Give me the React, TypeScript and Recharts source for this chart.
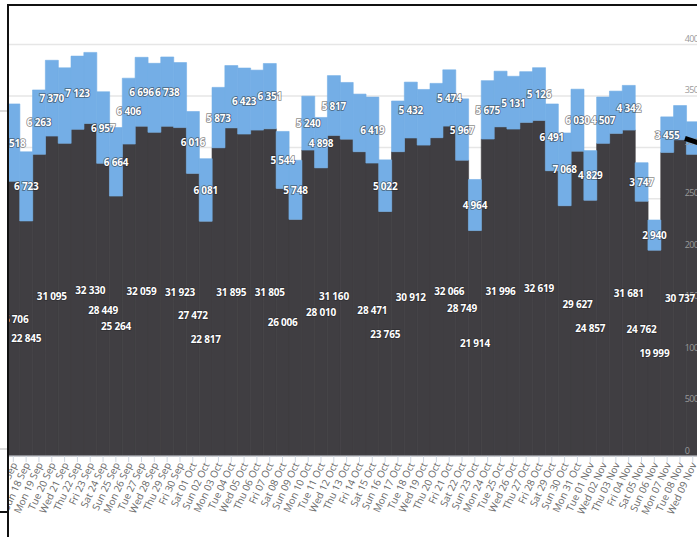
import { Bar, BarChart, CartesianGrid, LabelList, XAxis, YAxis } from 'recharts';

// daily visits, Sat 17 Sep – Wed 09 Nov
const days = [
  'Sat 17 Sep', 'Sun 18 Sep', 'Mon 19 Sep', 'Tue 20 Sep', 'Wed 21 Sep', 'Thu 22 Sep', 'Fri 23 Sep',
  'Sat 24 Sep', 'Sun 25 Sep', 'Mon 26 Sep', 'Tue 27 Sep', 'Wed 28 Sep', 'Thu 29 Sep', 'Fri 30 Sep',
  'Sat 01 Oct', 'Sun 02 Oct', 'Mon 03 Oct', 'Tue 04 Oct', 'Wed 05 Oct', 'Thu 06 Oct', 'Fri 07 Oct',
  'Sat 08 Oct', 'Sun 09 Oct', 'Mon 10 Oct', 'Tue 11 Oct', 'Wed 12 Oct', 'Thu 13 Oct', 'Fri 14 Oct',
  'Sat 15 Oct', 'Sun 16 Oct', 'Mon 17 Oct', 'Tue 18 Oct', 'Wed 19 Oct', 'Thu 20 Oct', 'Fri 21 Oct',
  'Sat 22 Oct', 'Sun 23 Oct', 'Mon 24 Oct', 'Tue 25 Oct', 'Wed 26 Oct', 'Thu 27 Oct', 'Fri 28 Oct',
  'Sat 29 Oct', 'Sun 30 Oct', 'Mon 31 Oct', 'Tue 01 Nov', 'Wed 02 Nov', 'Thu 03 Nov', 'Fri 04 Nov',
  'Sat 05 Nov', 'Sun 06 Nov', 'Mon 07 Nov', 'Tue 08 Nov', 'Wed 09 Nov',
];

const baseValues = [
  26706, 22845, 29320, 31095, 30390, 31750, 32330,
  28449, 25264, 30320, 32059, 31460, 32050, 31923,
  27472, 22817, 29960, 31895, 31290, 31680, 31805,
  26006, 23000, 29740, 28010, 31160, 30800, 29580,
  28471, 23765, 29580, 30912, 30220, 30940, 32066,
  28749, 21914, 30810, 31996, 31780, 32430, 32619,
  27730, 24330, 29627, 24857, 30390, 31360, 31681,
  24762, 19999, 29510, 30737, 29320,
];

const extraValues = [
  7518, 6723, 6263, 7370, 7340, 7123, 6900,
  6957, 6664, 6406, 6696, 6710, 6738, 6320,
  6016, 6081, 5873, 6060, 6423, 5830, 6351,
  5544, 5748, 5240, 4898, 5817, 5510, 5600,
  6419, 5022, 4930, 5432, 5410, 5280, 5474,
  5967, 4964, 5675, 5410, 5131, 4930, 5126,
  6491, 7068, 6030, 4829, 4507, 4110, 4342,
  3747, 2940, 3455, 3330, 3170,
];

// which bars show a data label (the others are hidden to avoid overlap)
const baseLabelIdx = [0, 1, 3, 6, 7, 8, 10, 13, 14, 15, 17, 20, 21, 24, 25, 28, 29, 31, 34, 35, 36, 38, 41, 44, 45, 48, 49, 50, 52];
const extraLabelIdx = [0, 1, 2, 3, 5, 7, 8, 9, 10, 12, 14, 15, 16, 18, 20, 21, 22, 23, 24, 25, 28, 29, 31, 34, 35, 36, 37, 39, 41, 42, 43, 44, 45, 46, 48, 49, 50, 51];

const yTicks = [0, 5000, 10000, 15000, 20000, 25000, 30000, 35000, 40000];

const data = days.map((day, i) => ({ day, base: baseValues[i], extra: extraValues[i] }));

const DARK = '#403e42';
const BLUE = '#74aee6';
const FONT = "'Open Sans', 'Noto Sans', sans-serif";
const fmt = (v: number) => String(v).replace(/\B(?=(\d{3})+(?!\d))/g, ' ');

// the visible window starts inside the report frame
const CLIP_X = 8.7;
const CLIP_Y = 6;

const valueLabel = (shown: number[]) => (props: any) => {
  const { x, y, width, height, value, index } = props;
  if (!shown.includes(index)) return null;
  return (
    <text
      x={Number(x) + Number(width) / 2}
      y={Number(y) + Number(height) / 2}
      textAnchor="middle"
      dominantBaseline="central"
      fontFamily={FONT}
      fontSize={10}
      fontWeight={700}
      letterSpacing={-0.2}
      fill="#fff"
      stroke="rgba(30,30,35,0.55)"
      strokeWidth={1.6}
      paintOrder="stroke"
    >
      {fmt(value)}
    </text>
  );
};

function DayTick({ x, y, payload }: any) {
  return (
    <text
      x={x + 1}
      y={y + 1}
      transform={`rotate(-65 ${x + 1} ${y + 1})`}
      textAnchor="end"
      dy="0.35em"
      fontFamily={FONT}
      fontSize={10}
      fill="#666"
    >
      {payload.value}
    </text>
  );
}

function ValueTick({ x, y, payload }: any) {
  return (
    <text
      x={x - 14.5}
      y={y - 2.5}
      textAnchor="start"
      fontFamily={FONT}
      fontSize={9}
      letterSpacing={-0.6}
      fill="#9a9a9a"
    >
      {payload.value}
    </text>
  );
}

export default function App() {
  return (
    <div style={{ position: 'fixed', left: 0, top: 0, width: 697, height: 537, overflow: 'hidden', background: '#fff' }}>
      <div
        style={{
          position: 'absolute',
          left: CLIP_X,
          top: CLIP_Y,
          width: 697 - CLIP_X,
          height: 537 - CLIP_Y,
          overflow: 'hidden',
        }}
      >
        <div style={{ position: 'absolute', left: -CLIP_X, top: -CLIP_Y }}>
          <BarChart
            width={720}
            height={537}
            data={data}
            barCategoryGap={0}
            barGap={0}
            margin={{ top: 44.5, right: 19.8, left: 6.9, bottom: 21 }}
          >
            <CartesianGrid vertical={false} stroke="#e6e6e6" strokeWidth={1.5} />
            <XAxis
              dataKey="day"
              interval={0}
              height={60}
              tick={<DayTick />}
              tickSize={6}
              tickMargin={0}
              tickLine={{ stroke: '#cfd7e1' }}
              axisLine={{ stroke: '#d5dbe3' }}
            />
            <YAxis
              orientation="right"
              width={1}
              domain={[0, 40000]}
              ticks={yTicks}
              tick={<ValueTick />}
              tickSize={0}
              tickMargin={0}
              tickLine={false}
              axisLine={false}
            />
            <Bar dataKey="base" stackId="v" fill={DARK} stroke={DARK} strokeWidth={0.6} isAnimationActive={false}>
              <LabelList dataKey="base" content={valueLabel(baseLabelIdx)} />
            </Bar>
            <Bar dataKey="extra" stackId="v" fill={BLUE} stroke={BLUE} strokeWidth={0.6} isAnimationActive={false}>
              <LabelList dataKey="extra" content={valueLabel(extraLabelIdx)} />
            </Bar>
          </BarChart>
        </div>
      </div>
      {/* frame of the surrounding report page */}
      <div style={{ position: 'absolute', left: 6.7, top: 4, width: 720, height: 600, borderLeft: '2px solid #111', borderTop: '2px solid #111', pointerEvents: 'none' }} />
      <div style={{ position: 'absolute', left: 0, top: 110, width: 6.7, height: 1.5, background: '#dcdcdc' }} />
      <div style={{ position: 'absolute', left: 0, top: 448, width: 6.7, height: 1.5, background: '#dcdcdc' }} />
      <div style={{ position: 'absolute', left: 0, top: 511, width: 7, height: 2, background: '#111' }} />
      <div style={{ position: 'absolute', left: 685, top: 136, width: 14, height: 4.5, background: '#000', transform: 'rotate(18deg)', transformOrigin: 'left center' }} />
    </div>
  );
}
